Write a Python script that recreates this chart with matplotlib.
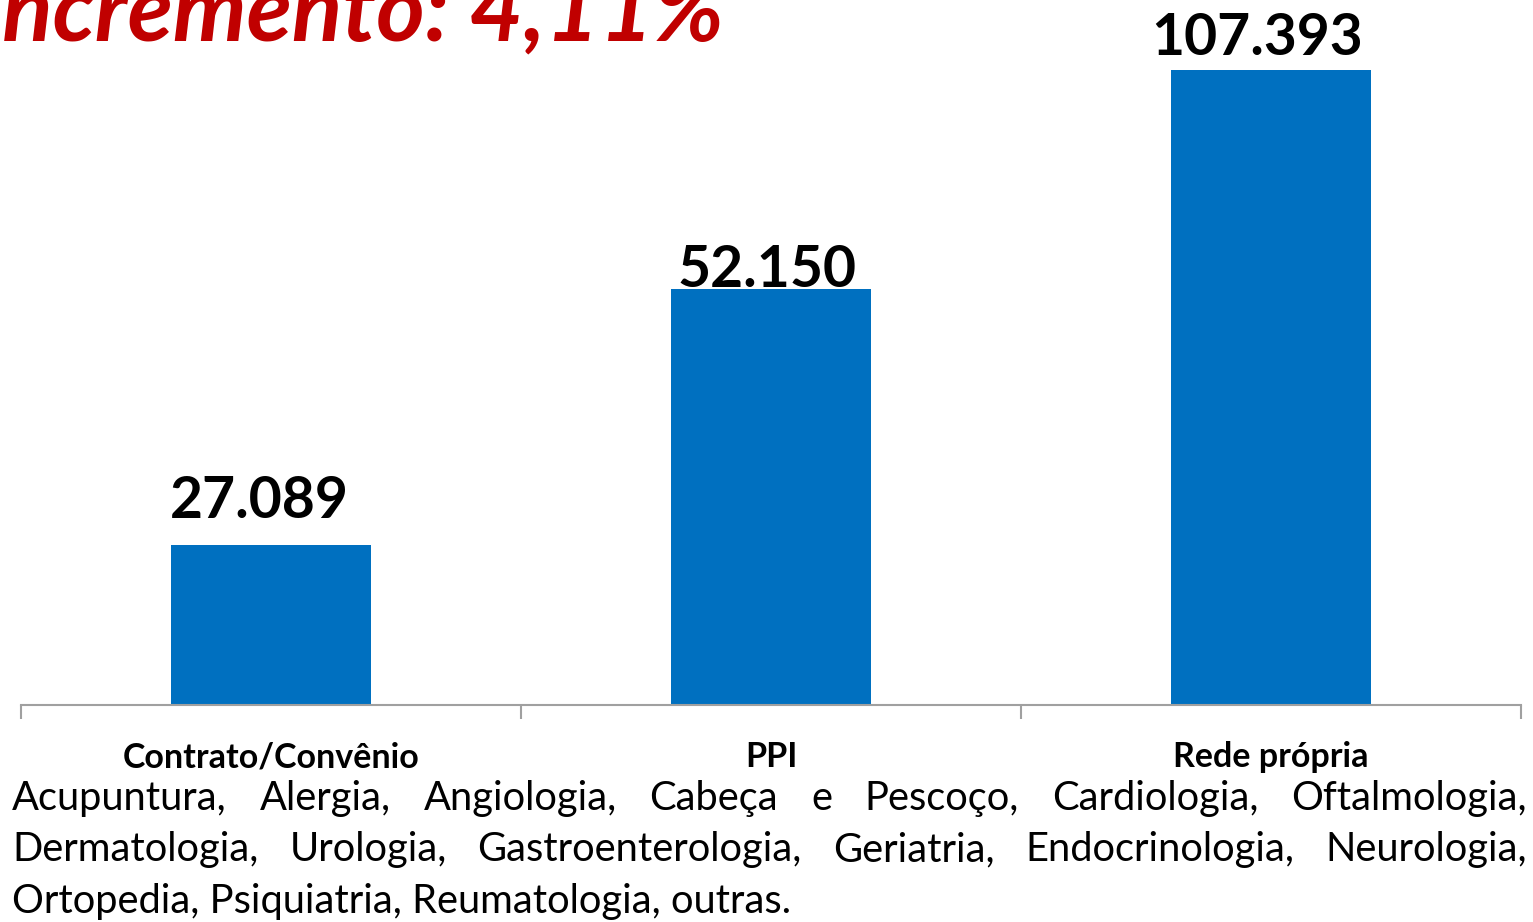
import matplotlib
matplotlib.use('Agg')
import matplotlib.pyplot as plt
import numpy as np

# data
categories = ['Contrato/Convênio', 'PPI', 'Rede própria']
bar_heights = [27089, 70350, 107393]      # drawn bar heights (as in picture)
value_labels = ['27.089', '52.150', '107.393']
title = 'Incremento: 4,11%'
body_lines = [
    'Acupuntura, Alergia, Angiologia, Cabeça e Pescoço, Cardiologia, Oftalmologia,',
    'Dermatologia, Urologia, Gastroenterologia, Geriatria, Endocrinologia, Neurologia,',
    'Ortopedia, Psiquiatria, Reumatologia, outras.',
]

W, H = 1533, 922
FONT = 'Lato'
plt.rcParams['font.family'] = [FONT, 'DejaVu Sans']

fig = plt.figure(figsize=(W / 100, H / 100), dpi=100)
ax = fig.add_axes([21 / W, (H - 705) / H, 1500 / W, 705 / H])

x = np.arange(len(categories))
ax.bar(x, bar_heights, width=0.4, color='#0070C0')
ax.set_xlim(-0.5, len(categories) - 0.5)
ax.set_ylim(0, max(bar_heights) * 705 / 635)

for s in ['top', 'right', 'left']:
    ax.spines[s].set_visible(False)
ax.spines['bottom'].set_color('#A0A0A0')
ax.spines['bottom'].set_linewidth(1.5)
ax.set_yticks([])

ax.set_xticks(x)
ax.set_xticklabels(categories, fontsize=24.5, fontweight='bold')
ax.tick_params(axis='x', which='major', length=0, pad=26)
ax.set_xticks(np.arange(-0.5, len(categories)), minor=True)
ax.tick_params(axis='x', which='minor', length=10, width=1.5, color='#A0A0A0', direction='out')

# value labels (pixel offsets above bar tops)
label_offsets = [17, -8, 5]
label_dx = [-12, -4, -14]
for i, (h, lab) in enumerate(zip(bar_heights, value_labels)):
    ax.annotate(lab, (x[i], h), xytext=(label_dx[i], label_offsets[i]), textcoords='offset pixels',
                ha='center', va='bottom', fontsize=41, fontweight='bold', color='black')

# title, cut off on the left/top like the reference
fig.text(724 / W, 1 - 40 / H, title, ha='right', va='baseline', fontsize=67,
         fontweight='bold', fontstyle='italic', color='#C00000')

# justified body text
fig.canvas.draw()
renderer = fig.canvas.get_renderer()
left_px, right_px = 12, 1527
baselines = [810, 861, 913]
for li, line in enumerate(body_lines):
    y = 1 - baselines[li] / H
    words = line.split(' ')
    justify = li < len(body_lines) - 1
    if not justify:
        fig.text(left_px / W, y, line, ha='left', va='baseline', fontsize=28.7, color='black')
        continue
    texts = [fig.text(0, y, w, ha='left', va='baseline', fontsize=28.7, color='black') for w in words]
    widths = [t.get_window_extent(renderer).width for t in texts]
    gap = (right_px - left_px - sum(widths)) / (len(words) - 1)
    cur = left_px
    for t, w in zip(texts, widths):
        t.set_x(cur / W)
        cur += w + gap

fig.savefig('out.png', dpi=100)
